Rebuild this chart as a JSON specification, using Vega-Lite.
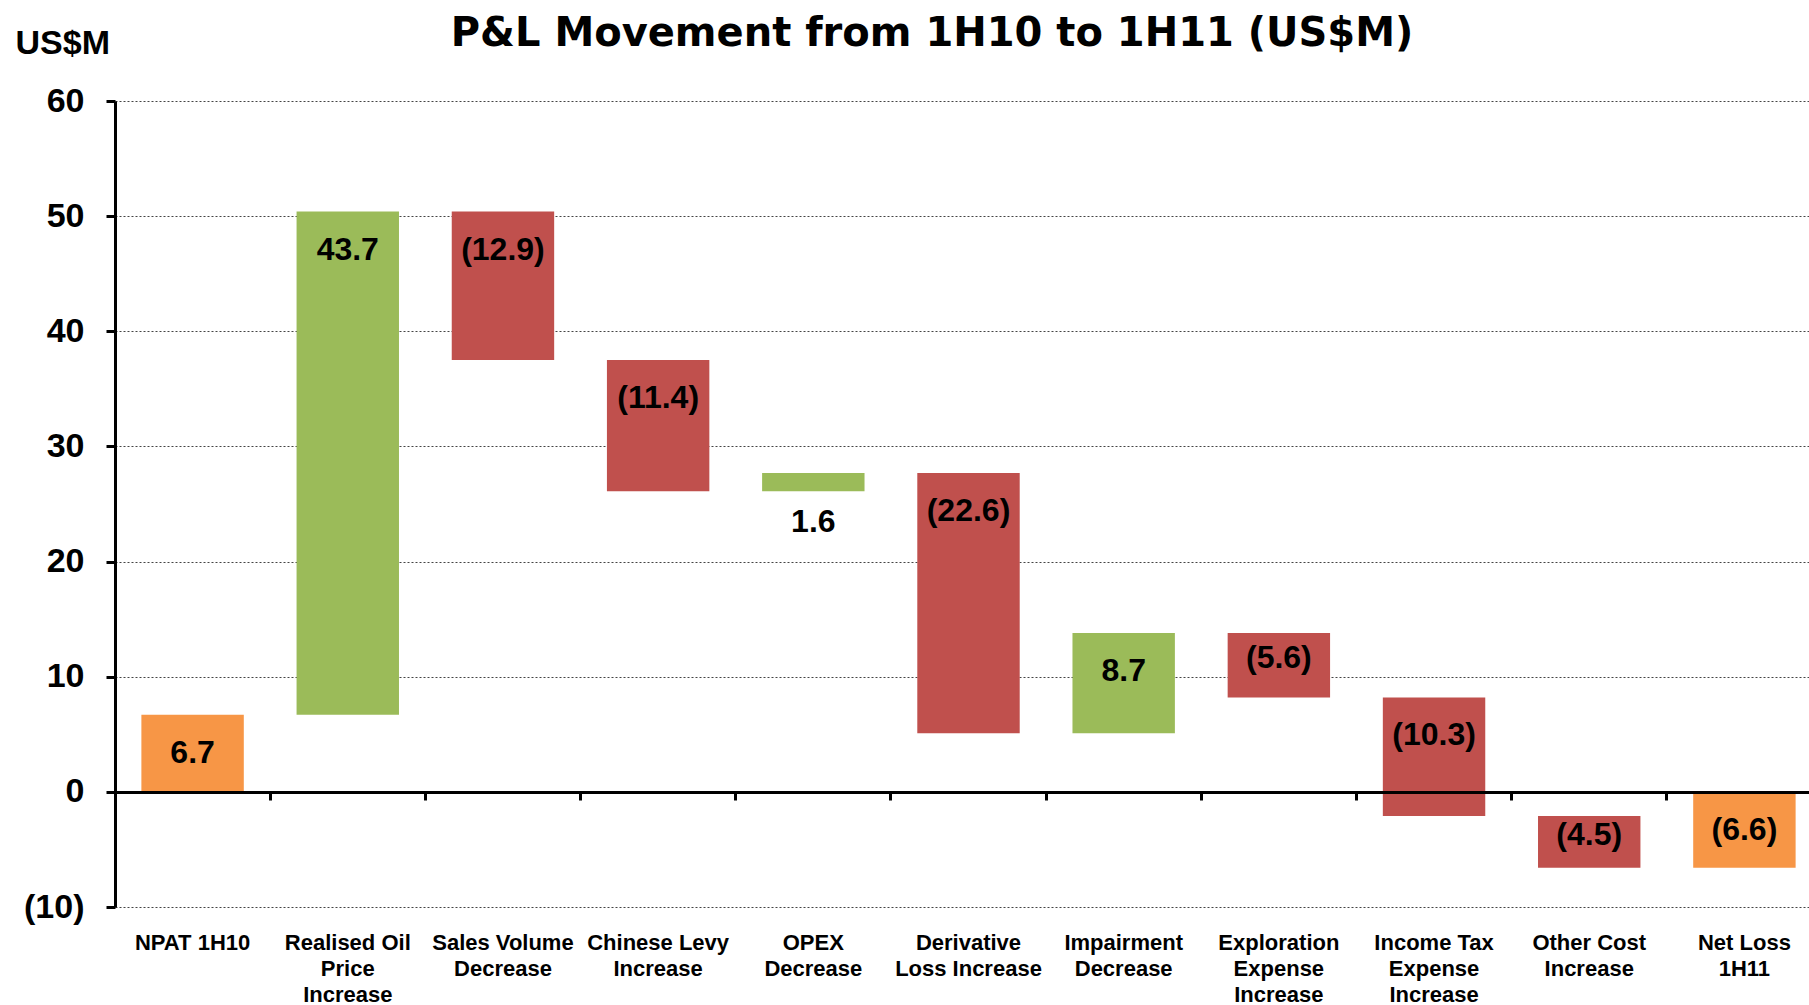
{
  "$schema": "https://vega.github.io/schema/vega-lite/v6.json",
  "width": 1694,
  "height": 806,
  "autosize": {"type": "none"},
  "padding": {"left": 115, "top": 101, "right": 0, "bottom": 98},
  "background": "white",
  "config": {"view": {"stroke": null}},
  "title": {
    "text": "P&L Movement from 1H10 to 1H11 (US$M)",
    "font": "DejaVu Sans",
    "fontSize": 40,
    "fontWeight": "bold",
    "color": "black",
    "anchor": "middle",
    "frame": "group",
    "baseline": "middle",
    "offset": -48,
    "dx": -30
  },
  "data": {
    "values": [
      {"cat": "NPAT 1H10", "value": 6.7, "start": 0, "end": 6.7, "type": "total"},
      {"cat": "Realised Oil Price Increase", "value": 43.7, "start": 6.7, "end": 50.4, "type": "up"},
      {"cat": "Sales Volume Decrease", "value": -12.9, "start": 50.4, "end": 37.5, "type": "down"},
      {"cat": "Chinese Levy Increase", "value": -11.4, "start": 37.5, "end": 26.1, "type": "down"},
      {"cat": "OPEX Decrease", "value": 1.6, "start": 26.1, "end": 27.7, "type": "up"},
      {"cat": "Derivative Loss Increase", "value": -22.6, "start": 27.7, "end": 5.1, "type": "down"},
      {"cat": "Impairment Decrease", "value": 8.7, "start": 5.1, "end": 13.8, "type": "up"},
      {"cat": "Exploration Expense Increase", "value": -5.6, "start": 13.8, "end": 8.2, "type": "down"},
      {"cat": "Income Tax Expense Increase", "value": -10.3, "start": 8.2, "end": -2.1, "type": "down"},
      {"cat": "Other Cost Increase", "value": -4.5, "start": -2.1, "end": -6.6, "type": "down"},
      {"cat": "Net Loss 1H11", "value": -6.6, "start": 0, "end": -6.6, "type": "total"}
    ]
  },
  "transform": [
    {"calculate": "max(datum.start, datum.end)", "as": "top"},
    {"calculate": "min(datum.start, datum.end)", "as": "bot"},
    {"calculate": "(datum.start + datum.end) / 2", "as": "mid"},
    {"calculate": "abs(datum.end - datum.start) < 3 ? 'below' : (abs(datum.end - datum.start) < 6 ? 'mid' : 'top')", "as": "pos"},
    {"calculate": "datum.value < 0 ? '(' + format(abs(datum.value), '.1f') + ')' : format(datum.value, '.1f')", "as": "lbl"}
  ],
  "resolve": {"axis": {"x": "independent"}},
  "layer": [
    {
      "mark": {"type": "bar", "width": {"band": 0.66}},
      "encoding": {
        "x": {
          "field": "cat", "type": "nominal", "sort": null,
          "scale": {"paddingInner": 0, "paddingOuter": 0, "range": [0, 1707]},
          "axis": {
            "title": null, "orient": "bottom", "domain": false, "ticks": false, "grid": false,
            "labelAngle": 0, "labelFont": "Liberation Sans", "labelFontSize": 22, "labelFontWeight": "bold",
            "labelColor": "black", "labelPadding": 25, "labelLineHeight": 26, "labelBaseline": "top", "labelLimit": 0,
            "labelExpr": "({'NPAT 1H10':['NPAT 1H10'],'Realised Oil Price Increase':['Realised Oil','Price','Increase'],'Sales Volume Decrease':['Sales Volume','Decrease'],'Chinese Levy Increase':['Chinese Levy','Increase'],'OPEX Decrease':['OPEX','Decrease'],'Derivative Loss Increase':['Derivative','Loss Increase'],'Impairment Decrease':['Impairment','Decrease'],'Exploration Expense Increase':['Exploration','Expense','Increase'],'Income Tax Expense Increase':['Income Tax','Expense','Increase'],'Other Cost Increase':['Other Cost','Increase'],'Net Loss 1H11':['Net Loss','1H11']})[datum.value]"
          }
        },
        "y": {
          "field": "start", "type": "quantitative",
          "scale": {"domain": [-10, 60], "nice": false, "zero": false},
          "axis": {
            "title": "US$M", "titleAngle": 0, "titleX": -100, "titleY": -58, "titleAlign": "left", "titleBaseline": "middle",
            "titleFont": "Liberation Sans", "titleFontSize": 34, "titleFontWeight": "bold", "titleColor": "black",
            "values": [-10, 0, 10, 20, 30, 40, 50, 60],
            "labelExpr": "datum.value < 0 ? '(' + abs(datum.value) + ')' : '' + datum.value",
            "labelFont": "Liberation Sans", "labelFontSize": 34, "labelFontWeight": "bold", "labelColor": "black",
            "labelPadding": 22,
            "domainColor": "black", "domainWidth": 3, "tickColor": "black", "tickWidth": 3, "tickSize": 9,
            "grid": true, "gridColor": "#444444", "gridDash": [2, 2], "gridWidth": 1
          }
        },
        "y2": {"field": "end"},
        "color": {
          "field": "type", "type": "nominal",
          "scale": {"domain": ["total", "up", "down"], "range": ["#F79646", "#9BBB59", "#C0504D"]},
          "legend": null
        }
      }
    },
    {
      "transform": [{"filter": "datum.pos == 'top'"}],
      "mark": {"type": "text", "dy": 38, "font": "Liberation Sans", "fontSize": 32, "fontWeight": "bold", "color": "black", "baseline": "middle", "align": "center"},
      "encoding": {
        "x": {
          "field": "cat", "type": "nominal", "sort": null,
          "axis": {
            "title": null, "orient": "bottom", "offset": -115, "labels": false, "grid": false,
            "domain": true, "domainColor": "black", "domainWidth": 3,
            "ticks": true, "tickColor": "black", "tickWidth": 3, "tickSize": 8, "bandPosition": 0, "zindex": 1
          }
        },
        "y": {"field": "top", "type": "quantitative"},
        "text": {"field": "lbl"}
      }
    },
    {
      "transform": [{"filter": "datum.pos == 'mid'"}],
      "mark": {"type": "text", "dy": -7, "font": "Liberation Sans", "fontSize": 32, "fontWeight": "bold", "color": "black", "baseline": "middle", "align": "center"},
      "encoding": {
        "x": {"field": "cat", "type": "nominal", "sort": null, "axis": null},
        "y": {"field": "mid", "type": "quantitative"},
        "text": {"field": "lbl"}
      }
    },
    {
      "transform": [{"filter": "datum.pos == 'below'"}],
      "mark": {"type": "text", "dy": 31, "font": "Liberation Sans", "fontSize": 32, "fontWeight": "bold", "color": "black", "baseline": "middle", "align": "center"},
      "encoding": {
        "x": {"field": "cat", "type": "nominal", "sort": null, "axis": null},
        "y": {"field": "bot", "type": "quantitative"},
        "text": {"field": "lbl"}
      }
    }
  ]
}
